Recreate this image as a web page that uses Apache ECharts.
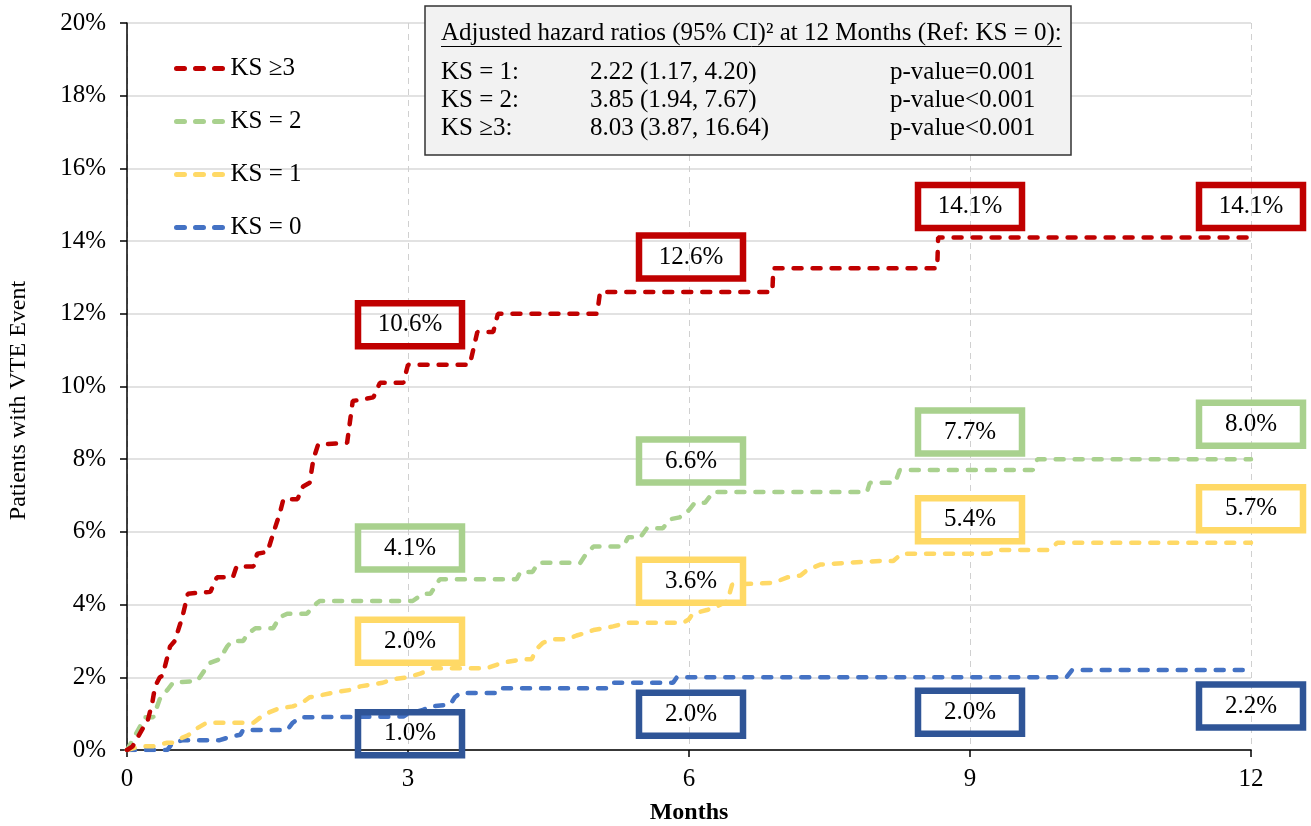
<!DOCTYPE html>
<html>
<head>
<meta charset="utf-8">
<script src="https://cdn.jsdelivr.net/npm/echarts@6/dist/echarts.min.js"></script>
<style>
  html, body { margin: 0; padding: 0; background: #fff; }
  #chart { width: 1311px; height: 826px; }
</style>
</head>
<body>
<div id="chart"></div>
<script>
// Cumulative incidence of VTE events (%) by months since baseline, per KS group.
// Each list holds [month, percent] vertices of the step curve.
const ks3Curve = [
  [0, 0], [0.06, 0.1], [0.17, 0.6], [0.21, 0.7], [0.27, 1.3], [0.30, 1.75], [0.35, 2.0], [0.38, 2.05],
  [0.46, 2.85], [0.51, 3.0], [0.59, 3.65], [0.65, 4.3], [0.89, 4.35], [0.96, 4.75], [1.13, 4.75],
  [1.17, 5.05], [1.35, 5.05], [1.39, 5.4], [1.50, 5.45], [1.56, 5.95], [1.63, 6.5], [1.67, 6.9],
  [1.82, 6.9], [1.88, 7.25], [1.95, 7.35], [1.99, 8.0], [2.04, 8.4], [2.35, 8.45], [2.41, 9.6],
  [2.63, 9.7], [2.70, 10.1], [2.95, 10.1], [3.0, 10.6], [3.66, 10.6], [3.74, 11.5], [3.91, 11.5],
  [3.96, 12.0], [5.02, 12.0], [5.05, 12.6], [6.89, 12.6], [6.9, 13.25], [8.65, 13.25], [8.66, 14.1],
  [12, 14.1]
];
const ks2Curve = [
  [0, 0], [0.14, 0.65], [0.19, 0.9], [0.28, 0.9], [0.35, 1.4], [0.43, 1.65], [0.49, 1.85], [0.75, 1.9],
  [0.83, 2.2], [0.89, 2.4], [0.99, 2.5], [1.07, 2.85], [1.12, 3.0], [1.24, 3.0], [1.29, 3.2], [1.37, 3.35],
  [1.56, 3.35], [1.63, 3.65], [1.71, 3.75], [1.92, 3.75], [2.03, 4.05], [2.06, 4.1], [3.05, 4.1],
  [3.16, 4.3], [3.24, 4.3], [3.34, 4.7], [4.16, 4.7], [4.2, 4.9], [4.33, 4.9], [4.39, 5.15], [4.84, 5.15],
  [4.89, 5.35], [4.98, 5.6], [5.3, 5.6], [5.35, 5.85], [5.48, 5.85], [5.55, 6.1], [5.72, 6.1], [5.8, 6.35],
  [5.9, 6.4], [6.0, 6.6], [6.06, 6.8], [6.17, 6.8], [6.26, 7.1], [7.9, 7.1], [7.93, 7.35], [8.2, 7.35],
  [8.25, 7.7], [9.67, 7.7], [9.72, 8.0], [12, 8.0]
];
const ks1Curve = [
  [0, 0], [0.14, 0.1], [0.28, 0.1], [0.43, 0.2], [0.49, 0.2], [0.6, 0.35], [0.65, 0.4], [0.75, 0.6],
  [0.85, 0.75], [1.35, 0.75], [1.45, 0.95], [1.53, 1.05], [1.63, 1.15], [1.77, 1.2], [1.87, 1.3],
  [1.95, 1.45], [2.06, 1.5], [2.24, 1.6], [2.38, 1.65], [2.49, 1.75], [2.73, 1.85], [2.84, 1.95],
  [3.0, 2.0], [3.13, 2.1], [3.27, 2.25], [3.84, 2.25], [4.01, 2.4], [4.23, 2.5], [4.32, 2.5], [4.38, 2.8],
  [4.44, 2.95], [4.55, 3.05], [4.7, 3.05], [4.8, 3.15], [4.87, 3.2], [4.98, 3.3], [5.19, 3.4], [5.34, 3.5],
  [5.94, 3.5], [6.0, 3.6], [6.04, 3.75], [6.19, 3.85], [6.3, 3.95], [6.41, 4.1], [6.46, 4.55], [6.9, 4.6],
  [7.05, 4.75], [7.19, 4.8], [7.26, 4.95], [7.4, 5.1], [7.69, 5.15], [8.04, 5.2], [8.18, 5.2], [8.27, 5.4],
  [9.21, 5.4], [9.29, 5.5], [9.85, 5.5], [9.93, 5.7], [12, 5.7]
];
const ks0Curve = [
  [0, 0], [0.43, 0], [0.49, 0.2], [0.6, 0.27], [0.99, 0.27], [1.1, 0.36], [1.21, 0.42], [1.24, 0.55],
  [1.71, 0.55], [1.77, 0.75], [1.85, 0.9], [2.95, 0.92], [3.0, 1.0], [3.16, 1.1], [3.24, 1.2], [3.45, 1.25],
  [3.5, 1.45], [3.56, 1.57], [3.98, 1.57], [4.01, 1.7], [5.12, 1.7], [5.16, 1.85], [5.83, 1.85],
  [5.87, 2.0], [10.03, 2.0], [10.09, 2.2], [12, 2.2]
];

// Boxed rates at the landmark months
const labelMonths = [3, 6, 9, 12];
const ks3Rates = [10.6, 12.6, 14.1, 14.1];
const ks2Rates = [4.1, 6.6, 7.7, 8.0];
const ks1Rates = [2.0, 3.6, 5.4, 5.7];
const ks0Rates = [1.0, 2.0, 2.0, 2.2];

// Axis ticks
const xTicks = [0, 3, 6, 9, 12];
const yTicks = [0, 2, 4, 6, 8, 10, 12, 14, 16, 18, 20];

// Hazard ratio table
const hrTitle = 'Adjusted hazard ratios (95% CI)\u00B2 at 12 Months (Ref: KS = 0):';
const hrGroups = ['KS = 1:', 'KS = 2:', 'KS \u22653:'];
const hrValues = ['2.22 (1.17, 4.20)', '3.85 (1.94, 7.67)', '8.03 (3.87, 16.64)'];
const hrPValues = ['p-value=0.001', 'p-value<0.001', 'p-value<0.001'];

const FONT = '"Liberation Serif", "Times New Roman", Times, serif';
const FS = 25;

const groups = [
  { name: 'KS \u22653', curve: ks3Curve, rates: ks3Rates, line: '#C00000', box: '#C00000', dy: [-40, -35, -31, -31] },
  { name: 'KS = 2', curve: ks2Curve, rates: ks2Rates, line: '#A9D18E', box: '#A9D18E', dy: [-53, -49, -38, -35] },
  { name: 'KS = 1', curve: ks1Curve, rates: ks1Rates, line: '#FFD966', box: '#FFD966', dy: [-36, -38, -34, -34] },
  { name: 'KS = 0', curve: ks0Curve, rates: ks0Rates, line: '#4472C4', box: '#2F5597', dy: [20, 37, 35, 36] }
];
const dxByMonth = [2, 2, 0, 0];
const dash = [8, 11];

const series = [];
groups.slice().reverse().forEach(g => {
  series.push({
    name: g.name,
    type: 'line',
    data: g.curve,
    symbol: 'none',
    showSymbol: false,
    silent: true,
    lineStyle: { color: g.line, width: 4.5, type: dash, cap: 'round' },
    itemStyle: { color: g.line },
    z: 3
  });
});
groups.forEach(g => {
  series.push({
    name: g.name + ' rates',
    type: 'scatter',
    symbolSize: 0,
    silent: true,
    clip: false,
    z: 4,
    itemStyle: { color: g.box, opacity: 1 },
    data: labelMonths.map((m, i) => ({
      value: [m, g.rates[i]],
      label: { offset: [dxByMonth[i], g.dy[i]] }
    })),
    label: {
      show: true,
      position: 'inside',
      formatter: p => p.value[1].toFixed(1) + '%',
      fontFamily: FONT,
      fontSize: FS,
      color: '#000',
      width: 104,
      height: 43,
      lineHeight: 43,
      align: 'center',
      verticalAlign: 'middle',
      padding: 0,
      borderColor: g.box,
      borderWidth: 6.5
    }
  });
});

// underline width follows the rendered title text
const measure = document.createElement('canvas').getContext('2d');
measure.font = FS + 'px ' + FONT;
const titleWidth = measure.measureText(hrTitle).width;

const tableX = 441;
const graphic = [
  { type: 'rect', shape: { x: 425, y: 6, width: 646, height: 149 },
    style: { fill: '#F2F2F2', stroke: '#333', lineWidth: 1.5 }, z: 10 },
  { type: 'text', x: tableX, y: 33, z: 11,
    style: { text: hrTitle, fontFamily: FONT, fontSize: FS, fill: '#000', verticalAlign: 'middle' } },
  { type: 'line', shape: { x1: tableX, y1: 46.5, x2: tableX + titleWidth, y2: 46.5 }, z: 11,
    style: { stroke: '#000', lineWidth: 1 } }
];
hrGroups.forEach((t, i) => {
  const y = 72 + i * 28;
  graphic.push({ type: 'text', x: tableX, y, z: 11,
    style: { text: t, fontFamily: FONT, fontSize: FS, fill: '#000', verticalAlign: 'middle' } });
  graphic.push({ type: 'text', x: 590, y, z: 11,
    style: { text: hrValues[i], fontFamily: FONT, fontSize: FS, fill: '#000', verticalAlign: 'middle' } });
  graphic.push({ type: 'text', x: 890, y, z: 11,
    style: { text: hrPValues[i], fontFamily: FONT, fontSize: FS, fill: '#000', verticalAlign: 'middle' } });
});

const chart = echarts.init(document.getElementById('chart'), null, { renderer: 'canvas' });
chart.setOption({
  animation: false,
  backgroundColor: '#fff',
  grid: { left: 127, right: 60, top: 23, bottom: 76, containLabel: false, outerBoundsMode: 'none' },
  legend: {
    data: groups.map(g => g.name),
    orient: 'vertical',
    left: 169,
    top: 51,
    itemWidth: 49,
    itemHeight: 14,
    itemGap: 28,
    textStyle: { fontFamily: FONT, fontSize: FS, color: '#000' },
    itemStyle: { opacity: 0 },
    lineStyle: { width: 5 },
    selectedMode: false
  },
  xAxis: {
    type: 'value',
    min: xTicks[0],
    max: xTicks[xTicks.length - 1],
    interval: 3,
    name: 'Months',
    nameLocation: 'middle',
    nameGap: 51,
    nameTextStyle: { fontFamily: FONT, fontSize: 24, fontWeight: 'bold', color: '#000' },
    axisLine: { lineStyle: { color: '#000', width: 1.5 } },
    axisTick: { show: true, length: 7, lineStyle: { color: '#000', width: 1.5 } },
    axisLabel: { fontFamily: FONT, fontSize: FS, color: '#000', margin: 17 },
    splitLine: { show: true, lineStyle: { color: '#D0D0D0', type: [6, 5], width: 1 } }
  },
  yAxis: {
    type: 'value',
    min: yTicks[0],
    max: yTicks[yTicks.length - 1],
    interval: 2,
    name: 'Patients with VTE Event',
    nameLocation: 'middle',
    nameGap: 96,
    nameTextStyle: { fontFamily: FONT, fontSize: 24, color: '#000', padding: [0, 28, 0, 0] },
    axisLine: { show: true, lineStyle: { color: '#000', width: 1.5 } },
    axisTick: { show: true, length: 7, lineStyle: { color: '#000', width: 1.5 } },
    axisLabel: { fontFamily: FONT, fontSize: FS, color: '#000', margin: 21, formatter: '{value}%' },
    splitLine: { show: true, lineStyle: { color: '#D9D9D9', width: 1.5 } }
  },
  graphic,
  series
});
</script>
</body>
</html>
